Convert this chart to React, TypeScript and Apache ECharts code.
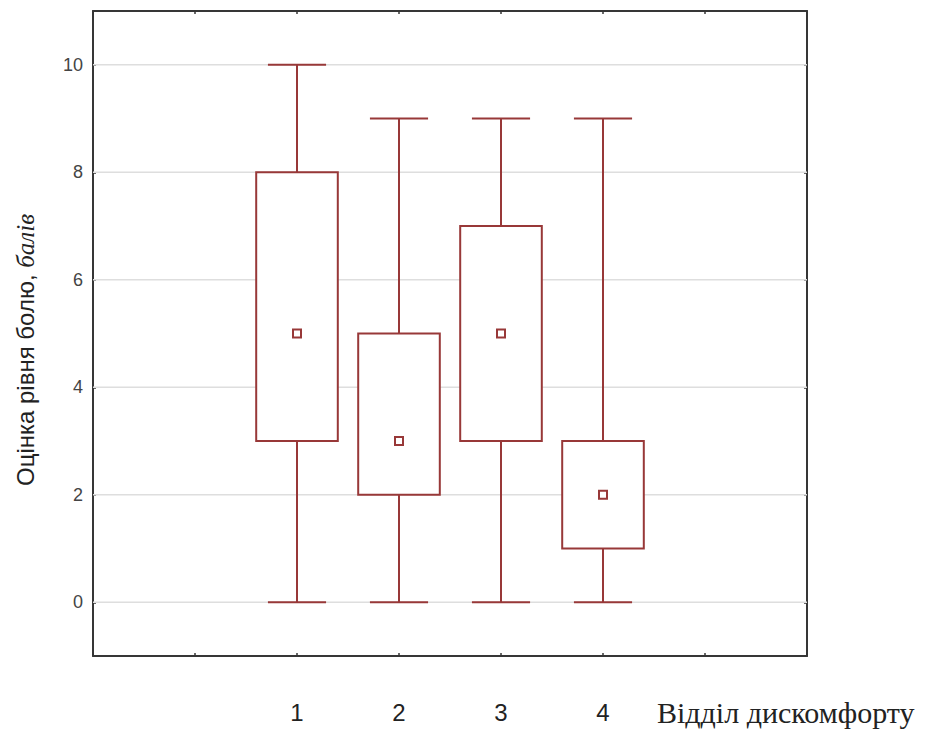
import { useEffect, useRef } from 'react';
import * as echarts from 'echarts';

// Box-and-whisker summary per discomfort group
const groups = ['1', '2', '3', '4'];
const groupPos = [1, 2, 3, 4];
const minValues = [0, 0, 0, 0];
const q1Values = [3, 2, 3, 1];
const medianValues = [5, 3, 5, 2];
const q3Values = [8, 5, 7, 3];
const maxValues = [10, 9, 9, 9];
const yTickValues = [0, 2, 4, 6, 8, 10];

const xTitle = 'Відділ дискомфорту';
const yTitleMain = 'Оцінка рівня болю, ';
const yTitleUnit = 'балів';

const BOX_COLOR = '#983838';
const AXIS_COLOR = '#363636';

export default function App() {
  const ref = useRef<HTMLDivElement>(null);

  useEffect(() => {
    if (!ref.current) return;
    const chart = echarts.init(ref.current, null, { renderer: 'svg' });

    const boxData = groupPos.map((x, i) => [
      x,
      minValues[i],
      q1Values[i],
      medianValues[i],
      q3Values[i],
      maxValues[i],
    ]);

    const axisLine = { show: true, onZero: false, lineStyle: { color: AXIS_COLOR, width: 2 } };
    const axisTick = { show: true, inside: true, length: 3, lineStyle: { color: AXIS_COLOR, width: 1.5 } };

    const option: any = {
      animation: false,
      backgroundColor: '#ffffff',
      grid: { left: 93, top: 11, right: 118, bottom: 73, containLabel: false },
      xAxis: [
        {
          type: 'value',
          min: -1,
          max: 6,
          interval: 1,
          position: 'bottom',
          axisLine,
          axisTick,
          splitLine: { show: false },
          axisLabel: {
            margin: 44,
            fontSize: 24,
            color: '#222',
            fontFamily: 'Liberation Sans',
            formatter: (v: number) => {
              const idx = groupPos.indexOf(v);
              return idx >= 0 ? groups[idx] : '';
            },
          },
        },
        {
          type: 'value',
          min: -1,
          max: 6,
          interval: 1,
          position: 'top',
          axisLine,
          axisTick,
          splitLine: { show: false },
          axisLabel: { show: false },
        },
      ],
      yAxis: [
        {
          type: 'value',
          min: -1,
          max: 11,
          position: 'left',
          axisLine,
          axisTick: { ...axisTick, customValues: yTickValues },
          splitLine: { show: false },
          axisLabel: {
            customValues: yTickValues,
            margin: 10,
            fontSize: 18,
            color: '#444',
            fontFamily: 'Liberation Sans',
          },
        },
        {
          type: 'value',
          min: -1,
          max: 11,
          position: 'right',
          axisLine,
          axisTick: { ...axisTick, customValues: yTickValues },
          splitLine: { show: false },
          axisLabel: { show: false },
        },
      ],
      series: [
        {
          // horizontal grid lines at the labelled values
          type: 'custom',
          xAxisIndex: 0,
          yAxisIndex: 0,
          z: 1,
          silent: true,
          data: yTickValues.map((v) => [0, v]),
          encode: { x: 0, y: 1 },
          renderItem: (params: any, api: any) => {
            const cs = params.coordSys;
            const y = api.coord([0, api.value(1)])[1];
            return {
              type: 'line',
              shape: { x1: cs.x, y1: y, x2: cs.x + cs.width, y2: y },
              style: { stroke: '#dedede', lineWidth: 1.5 },
            };
          },
        },
        {
          type: 'custom',
          xAxisIndex: 0,
          yAxisIndex: 0,
          z: 3,
          data: boxData,
          encode: { x: 0, y: [1, 2, 3, 4, 5] },
          renderItem: (_params: any, api: any) => {
            const x = api.value(0);
            const pMin = api.coord([x, api.value(1)]);
            const pQ1 = api.coord([x, api.value(2)]);
            const pMed = api.coord([x, api.value(3)]);
            const pQ3 = api.coord([x, api.value(4)]);
            const pMax = api.coord([x, api.value(5)]);
            const boxW = api.size([0.8, 0])[0];
            const capW = api.size([0.57, 0])[0];
            const cx = pMed[0];
            const stroke = { stroke: BOX_COLOR, lineWidth: 2, fill: 'none' };
            const m = 8;
            return {
              type: 'group',
              children: [
                { type: 'line', shape: { x1: cx, y1: pMax[1], x2: cx, y2: pQ3[1] }, style: stroke },
                { type: 'line', shape: { x1: cx, y1: pQ1[1], x2: cx, y2: pMin[1] }, style: stroke },
                { type: 'line', shape: { x1: cx - capW / 2, y1: pMax[1], x2: cx + capW / 2, y2: pMax[1] }, style: stroke },
                { type: 'line', shape: { x1: cx - capW / 2, y1: pMin[1], x2: cx + capW / 2, y2: pMin[1] }, style: stroke },
                {
                  type: 'rect',
                  shape: { x: cx - boxW / 2, y: pQ3[1], width: boxW, height: pQ1[1] - pQ3[1] },
                  style: { fill: '#ffffff', stroke: BOX_COLOR, lineWidth: 2 },
                },
                {
                  type: 'rect',
                  shape: { x: cx - m / 2, y: pMed[1] - m / 2, width: m, height: m },
                  style: { fill: '#ffffff', stroke: BOX_COLOR, lineWidth: 2 },
                },
              ],
            };
          },
        },
      ],
      graphic: [
        {
          type: 'text',
          x: 25,
          y: 350,
          rotation: Math.PI / 2,
          style: {
            text: `{a|${yTitleMain}}{b|${yTitleUnit}}`,
            align: 'center',
            verticalAlign: 'middle',
            rich: {
              a: { fontFamily: 'Liberation Sans', fontSize: 24, fill: '#222' },
              b: { fontFamily: 'Liberation Serif', fontStyle: 'italic', fontSize: 25, fill: '#222' },
            },
          },
        },
        {
          type: 'text',
          x: 657,
          y: 712,
          style: {
            text: xTitle,
            align: 'left',
            verticalAlign: 'middle',
            fontFamily: 'Liberation Serif',
            fontSize: 30,
            fill: '#222',
          },
        },
      ],
    };

    chart.setOption(option);
    return () => chart.dispose();
  }, []);

  return (
    <div
      ref={ref}
      style={{ position: 'absolute', left: 0, top: 0, width: 925, height: 729, background: '#fff' }}
    />
  );
}
